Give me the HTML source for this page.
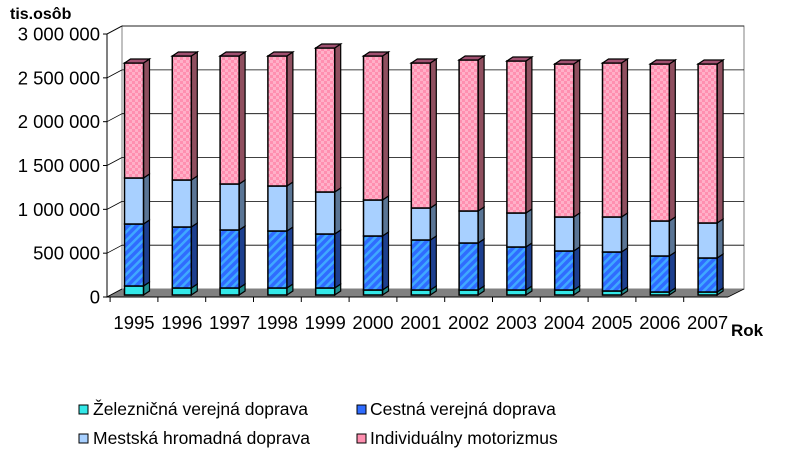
<!DOCTYPE html>
<html><head><meta charset="utf-8"><style>
body{margin:0;background:#fff;}
svg{display:block;font-family:"Liberation Sans",Arial,sans-serif;}
</style></head><body>
<svg id="s" width="800" height="468" viewBox="0 0 800 468" xmlns="http://www.w3.org/2000/svg">
<defs>
<pattern id="pk" width="6" height="6" patternUnits="userSpaceOnUse">
<rect width="6" height="6" fill="#ff8fb0"/><rect width="3" height="3" fill="#ffb0c8"/><rect x="3" y="3" width="3" height="3" fill="#ffb0c8"/>
</pattern>
<pattern id="bl" width="6" height="6" patternUnits="userSpaceOnUse" patternTransform="rotate(45)">
<rect width="6" height="6" fill="#2f6cff"/><rect width="2.5" height="6" fill="#3fa8ff"/>
</pattern>
</defs>
<g id="g"></g>
<text x="10" y="19" font-size="16" font-weight="bold">tis.osôb</text>
<text x="731" y="336" font-size="17" font-weight="bold">Rok</text>
<g font-size="17.5">
<rect x="79" y="405" width="9" height="9" fill="#33e8e8" stroke="#000"/>
<text x="93" y="415">Železničná verejná doprava</text>
<rect x="357" y="405" width="9" height="9" fill="#2f6cff" stroke="#000"/>
<text x="370" y="415">Cestná verejná doprava</text>
<rect x="79" y="434" width="9" height="9" fill="#a8d0ff" stroke="#000"/>
<text x="93" y="444">Mestská hromadná doprava</text>
<rect x="357" y="434" width="9" height="9" fill="#ff8fb0" stroke="#000"/>
<text x="370" y="444">Individuálny motorizmus</text>
</g>
</svg>
<script>
(function(){
var g=document.getElementById('g'),h='';
h+='<polygon points="122,26 744,26 744,289 122,289" fill="#fff" stroke="#808080"/>';
h+='<polygon points="107,34 122,26 122,289 107,297" fill="#fff" stroke="#808080"/>';
h+='<polygon points="107,297 122,289 744,289 728,297" fill="#808080"/>';
for(var i=0;i<=6;i++){var y=297-i*43.83;
 h+='<line x1="107" y1="'+y+'" x2="122" y2="'+(y-8)+'" stroke="#000" stroke-width="0.8"/>';
 if(i>0)h+='<line x1="122" y1="'+(y-8)+'" x2="744" y2="'+(y-8)+'" stroke="#000" stroke-width="0.8"/>';
 h+='<line x1="103" y1="'+y+'" x2="107" y2="'+y+'" stroke="#000"/>';
}
h+='<line x1="107" y1="34" x2="107" y2="297" stroke="#000"/>';
h+='<line x1="107" y1="297" x2="728" y2="297" stroke="#000"/>';
h+='<line x1="728" y1="297" x2="744" y2="289" stroke="#000" stroke-width="0.8"/>';
var labs=['0','500 000','1 000 000','1 500 000','2 000 000','2 500 000','3 000 000'];
for(var i=0;i<=6;i++){h+='<text x="100" y="'+(297-i*43.83+6.5)+'" font-size="18.5" text-anchor="end">'+labs[i]+'</text>';}
var tp=[63,56,56,56,48,56,63,60,61,64,63,64,64];
var pb=[178,180,184,186,192,200,208,211,213,217,217,221,223];
var db=[224,227,230,231,234,236,240,243,247,251,252,256,258];
var cy=[286,288,288,288,288,290,290,290,290,290,291,292,292];
var bot=295,w=19,ox=6,oy=4;
for(var i=0;i<13;i++){
 var cx=134+47.8*i,x=cx-w/2;
 h+='<line x1="'+(cx-23.9)+'" y1="297" x2="'+(cx-23.9)+'" y2="302" stroke="#000"/>';
 h+='<text x="'+cx+'" y="329" font-size="18.5" text-anchor="middle">'+(1995+i)+'</text>';
 var segs=[[cy[i],bot,'#33e8e8','#1f8c8c'],[db[i],cy[i],'url(#bl)','#1d3f8f'],[pb[i],db[i],'#a8d0ff','#5a7595'],[tp[i],pb[i],'url(#pk)','#8f4f5f']];
 for(var k=0;k<4;k++){var a=segs[k][0],b=segs[k][1];
  h+='<polygon points="'+(x+w)+','+b+' '+(x+w+ox)+','+(b-oy)+' '+(x+w+ox)+','+(a-oy)+' '+(x+w)+','+a+'" fill="'+segs[k][3]+'" stroke="#000" stroke-width="1.2"/>';
  h+='<rect x="'+x+'" y="'+a+'" width="'+w+'" height="'+(b-a)+'" fill="'+segs[k][2]+'" stroke="#000" stroke-width="1.5"/>';
 }
 h+='<polygon points="'+x+','+tp[i]+' '+(x+ox)+','+(tp[i]-oy)+' '+(x+w+ox)+','+(tp[i]-oy)+' '+(x+w)+','+tp[i]+'" fill="#a05070" stroke="#000" stroke-width="1.2"/>';
}
g.innerHTML=h;
})();
</script>
</body></html>
